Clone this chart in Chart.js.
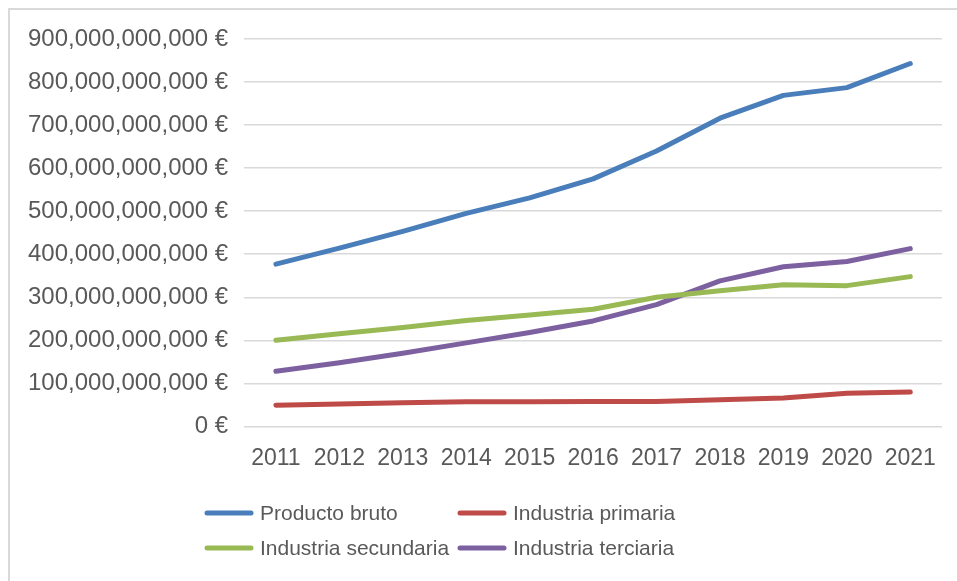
<!DOCTYPE html>
<html>
<head>
<meta charset="utf-8">
<script src="https://cdn.jsdelivr.net/npm/chart.js@4"></script>
<style>
  body { margin: 0; background: #fff; }
  #frame { position: absolute; left: 8px; top: 8px; width: 970px; height: 600px; border: 2px solid #d9d9d9; }
  #wrap { position: absolute; left: 0; top: 0; width: 957px; height: 581px; }
</style>
</head>
<body>
<div id="frame"></div>
<div id="wrap"><canvas id="gdp"></canvas></div>
<script>
const years = ["2011", "2012", "2013", "2014", "2015", "2016", "2017", "2018", "2019", "2020", "2021"];

const productoBruto = [377e9, 414e9, 453e9, 495e9, 531e9, 575e9, 640e9, 716e9, 769e9, 787e9, 843e9];
const industriaPrimaria = [49e9, 52e9, 55e9, 57e9, 57e9, 58e9, 58e9, 62e9, 66e9, 77e9, 80e9];
const industriaSecundaria = [200e9, 215e9, 230e9, 246e9, 259e9, 272e9, 300e9, 315e9, 329e9, 327e9, 348e9];
const industriaTerciaria = [128e9, 148e9, 170e9, 194e9, 218e9, 245e9, 283e9, 338e9, 371e9, 383e9, 413e9];

const textGray = '#595959';
const fontFam = '"Liberation Sans", Arial, sans-serif';

// legend laid out in two aligned columns like the original
const gridLegend = {
  id: 'gridLegend',
  afterDraw(chart) {
    const ctx = chart.ctx;
    const cols = [205, 458];
    const rows = [513, 548];
    ctx.save();
    ctx.font = '21px ' + fontFam;
    ctx.textBaseline = 'middle';
    ctx.lineCap = 'round';
    chart.data.datasets.forEach((ds, i) => {
      const x = cols[i % 2];
      const y = rows[Math.floor(i / 2)];
      ctx.strokeStyle = ds.borderColor;
      ctx.lineWidth = 5;
      ctx.beginPath();
      ctx.moveTo(x + 2, y);
      ctx.lineTo(x + 46, y);
      ctx.stroke();
      ctx.fillStyle = textGray;
      ctx.fillText(ds.label, x + 55, y + 1);
    });
    ctx.restore();
  }
};

const ctx = document.getElementById('gdp').getContext('2d');

const gdpChart = new Chart(ctx, {
  type: 'line',
  data: {
    labels: years,
    datasets: [{
      label: "Producto bruto",
      data: productoBruto,
      borderColor: '#4a7ebb'
    }, {
      label: "Industria primaria",
      data: industriaPrimaria,
      borderColor: '#be4b48'
    }, {
      label: "Industria secundaria",
      data: industriaSecundaria,
      borderColor: '#98b954'
    }, {
      label: "Industria terciaria",
      data: industriaTerciaria,
      borderColor: '#7d60a0'
    }]
  },
  options: {
    responsive: true,
    maintainAspectRatio: false,
    animation: false,
    layout: {
      padding: { left: 12, right: 15, top: 39, bottom: 91 }
    },
    elements: {
      line: { borderWidth: 5, tension: 0, borderCapStyle: 'round', borderJoinStyle: 'round' },
      point: { radius: 0, hoverRadius: 0 }
    },
    scales: {
      x: {
        offset: true,
        grid: { display: false, drawTicks: false },
        border: { display: false },
        ticks: {
          color: textGray,
          font: { family: fontFam, size: 23 },
          padding: 18,
          maxRotation: 0
        }
      },
      y: {
        min: 0,
        max: 900e9,
        grid: { color: '#d9d9d9', lineWidth: 1.5, drawTicks: false },
        border: { display: false },
        ticks: {
          stepSize: 100e9,
          color: textGray,
          font: { family: fontFam, size: 24 },
          padding: 16,
          callback: v => v.toLocaleString('en-US') + ' €'
        }
      }
    },
    plugins: {
      legend: { display: false },
      tooltip: { enabled: false }
    }
  },
  plugins: [gridLegend]
});
</script>
</body>
</html>
